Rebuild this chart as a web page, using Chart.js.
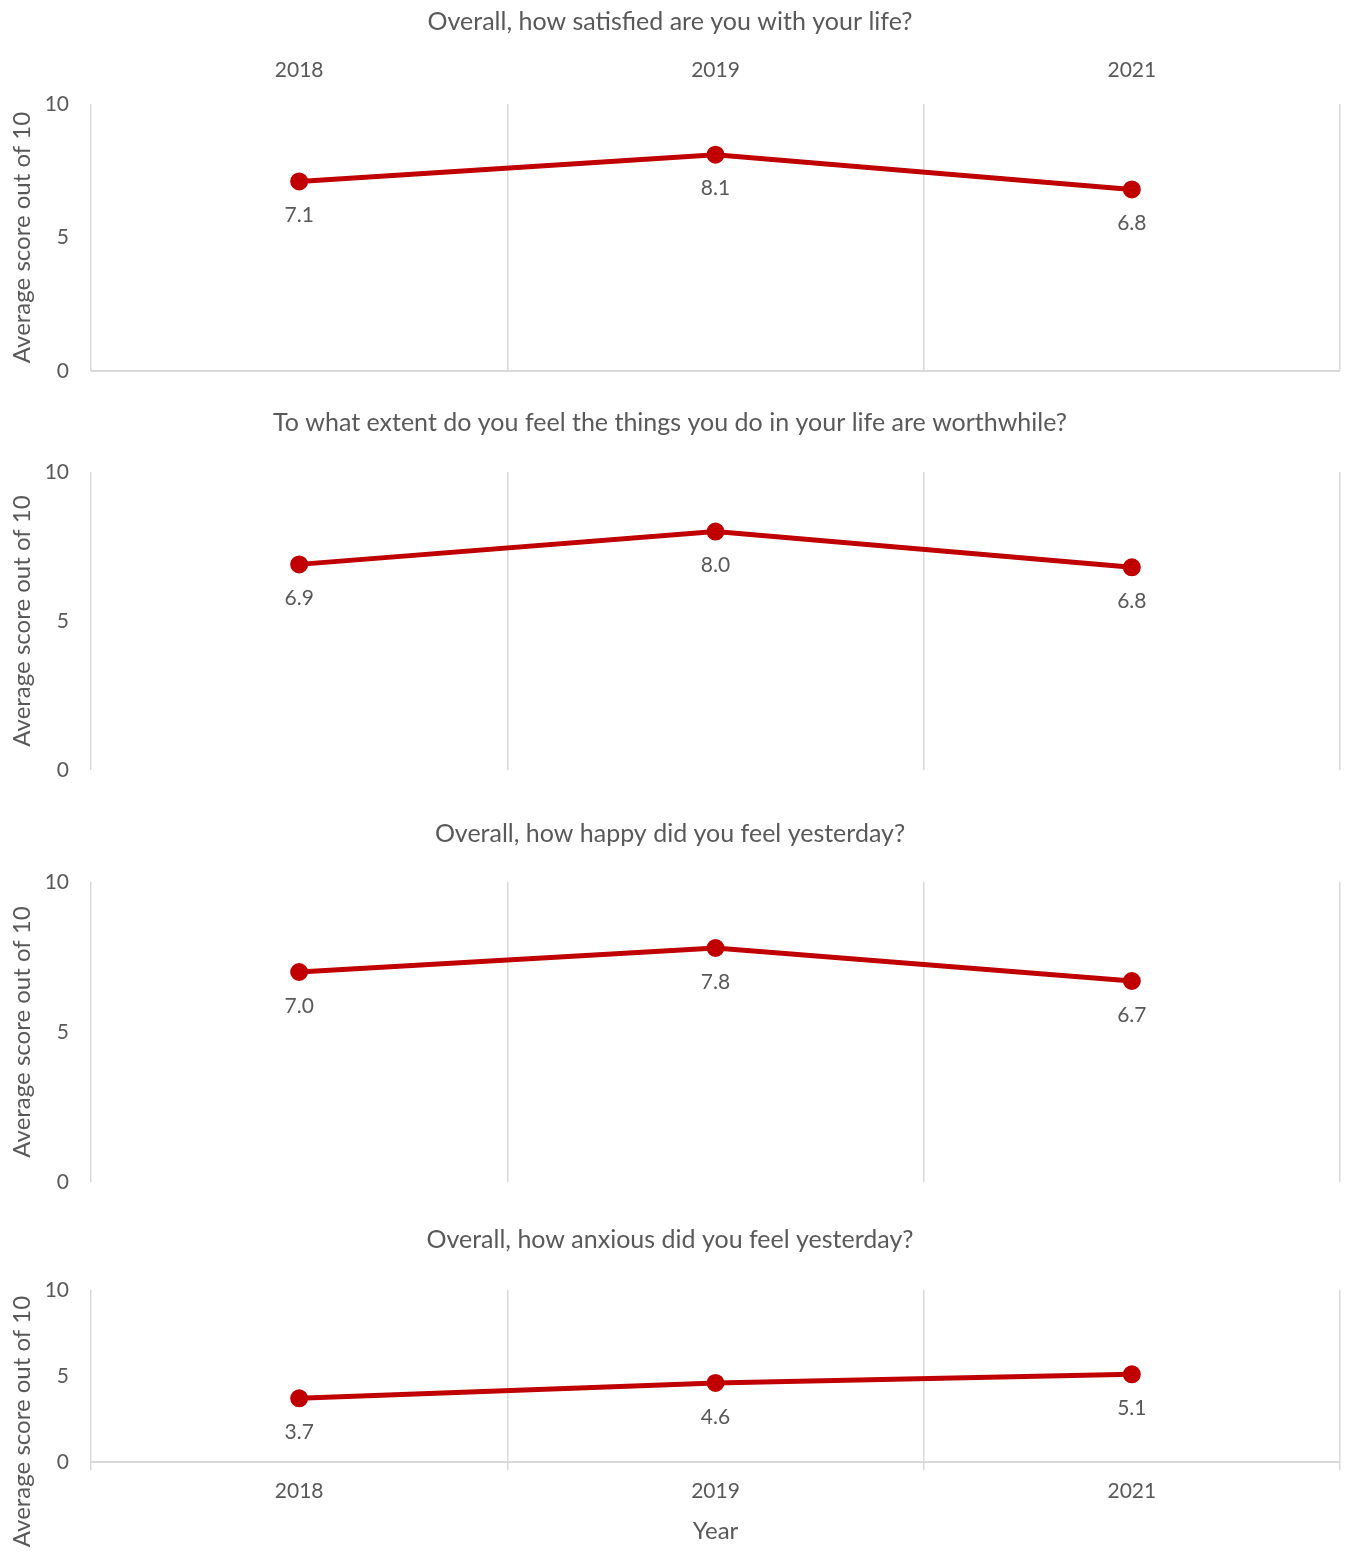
<!DOCTYPE html>
<html>
<head>
<meta charset="utf-8">
<title>Wellbeing scores</title>
<script src="https://cdn.jsdelivr.net/npm/chart.js@4.4.1/dist/chart.umd.min.js"></script>
<style>
  html, body { margin: 0; padding: 0; background: #fff; }
  body { width: 1346px; height: 1553px; position: relative; overflow: hidden; }
  canvas { position: absolute; left: 0; }
</style>
</head>
<body>
<canvas id="c1" width="1346" height="380" style="top:0px"></canvas>
<canvas id="c2" width="1346" height="380" style="top:400px"></canvas>
<canvas id="c3" width="1346" height="380" style="top:810px"></canvas>
<canvas id="c4" width="1346" height="333" style="top:1220px"></canvas>
<script>
// survey years and average scores (out of 10)
const years = ['2018', '2019', '2021'];
const lifeSatisfaction = [7.1, 8.1, 6.8];
const worthwhile = [6.9, 8.0, 6.8];
const happiness = [7.0, 7.8, 6.7];
const anxiety = [3.7, 4.6, 5.1];
const yTicks = [0, 5, 10];

const questions = [
  'Overall, how satisfied are you with your life?',
  'To what extent do you feel the things you do in your life are worthwhile?',
  'Overall, how happy did you feel yesterday?',
  'Overall, how anxious did you feel yesterday?'
];
const yAxisTitle = 'Average score out of 10';

const FONT = 'Lato, "Open Sans", sans-serif';
const GREY = '#595959';
const GRID = '#d9d9d9';
const RED = '#c00000';

// writes each point's value underneath it
const valueLabels = {
  id: 'valueLabels',
  afterDatasetsDraw(chart) {
    const ctx = chart.ctx;
    const ds = chart.data.datasets[0];
    const meta = chart.getDatasetMeta(0);
    ctx.save();
    ctx.font = '21px ' + FONT;
    ctx.fillStyle = GREY;
    ctx.textAlign = 'center';
    ctx.textBaseline = 'middle';
    meta.data.forEach((pt, i) => {
      ctx.fillText(ds.data[i].toFixed(1), pt.x, pt.y + 34);
    });
    ctx.restore();
  }
};

// rotated y title, centred between the plot top and a chosen bottom edge
const sideTitle = {
  id: 'sideTitle',
  afterDraw(chart, args, opts) {
    const ctx = chart.ctx;
    const top = chart.chartArea.top;
    const bottom = opts.toCanvasBottom ? chart.height : chart.chartArea.bottom;
    ctx.save();
    ctx.translate(22, (top + bottom) / 2);
    ctx.rotate(-Math.PI / 2);
    ctx.font = '24px ' + FONT;
    ctx.fillStyle = GREY;
    ctx.textAlign = 'center';
    ctx.textBaseline = 'middle';
    ctx.fillText(yAxisTitle, 0, 0);
    ctx.restore();
  }
};

function makeChart(id, title, values, opt) {
  const ctx = document.getElementById(id);
  new Chart(ctx, {
    type: 'line',
    data: {
      labels: years,
      datasets: [{
        data: values,
        borderColor: RED,
        backgroundColor: RED,
        borderWidth: 5,
        pointRadius: 6.5,
        pointHoverRadius: 6.5,
        tension: 0
      }]
    },
    options: {
      responsive: false,
      animation: false,
      events: [],
      layout: {
        autoPadding: false,
        padding: { top: 0, left: 0, right: 6, bottom: opt.padBottom }
      },
      plugins: {
        legend: { display: false },
        tooltip: { enabled: false },
        sideTitle: { toCanvasBottom: opt.xTitle },
        title: {
          display: true,
          text: title,
          color: GREY,
          font: { family: FONT, size: 25, weight: 'normal' },
          padding: { top: opt.titleTop, bottom: opt.titleBottom }
        }
      },
      scales: {
        x: {
          position: opt.xPos,
          offset: true,
          grid: {
            offset: true,
            color: GRID,
            lineWidth: 1.5,
            drawTicks: opt.xTicks,
            tickLength: 8
          },
          border: { display: opt.xBorder, color: GRID, width: 2 },
          ticks: {
            display: opt.xLabels,
            color: GREY,
            font: { family: FONT, size: 21 },
            padding: opt.xPad,
            maxRotation: 0
          },
          title: {
            display: opt.xTitle,
            text: 'Year',
            color: GREY,
            font: { family: FONT, size: 24 },
            padding: { top: 0, bottom: 7 }
          },
          afterFit(scale) {
            scale.height = opt.xHeight;
            scale.paddingLeft = 0;
            scale.paddingRight = 0;
          }
        },
        y: {
          min: 0,
          max: 10,
          afterBuildTicks(scale) { scale.ticks = yTicks.map(v => ({ value: v })); },
          grid: {
            drawTicks: false,
            lineWidth: 2,
            color: c => (opt.zeroLine && c.tick && c.tick.value === 0) ? GRID : 'rgba(0,0,0,0)'
          },
          border: { display: false },
          ticks: {
            color: GREY,
            font: { family: FONT, size: 21 },
            padding: 22
          },
          afterFit(scale) {
            scale.width = 91;
            scale.paddingTop = 0;
            scale.paddingBottom = 0;
          }
        }
      }
    },
    plugins: [valueLabels, sideTitle]
  });
}

makeChart('c1', questions[0], lifeSatisfaction, {
  titleTop: 7, titleBottom: 0, xPos: 'top', xLabels: true, xTicks: false,
  xPad: 21, xHeight: 67, xBorder: false, xTitle: false, zeroLine: true, padBottom: 9
});
makeChart('c2', questions[1], worthwhile, {
  titleTop: 8, titleBottom: 34, xPos: 'bottom', xLabels: false, xTicks: false,
  xPad: 0, xHeight: 0, xBorder: false, xTitle: false, zeroLine: false, padBottom: 10
});
makeChart('c3', questions[2], happiness, {
  titleTop: 9, titleBottom: 33, xPos: 'bottom', xLabels: false, xTicks: false,
  xPad: 0, xHeight: 0, xBorder: false, xTitle: false, zeroLine: false, padBottom: 8
});
makeChart('c4', questions[3], anxiety, {
  titleTop: 5, titleBottom: 35, xPos: 'bottom', xLabels: true, xTicks: true,
  xPad: 9, xHeight: 91, xBorder: true, xTitle: true, zeroLine: false, padBottom: 0
});
</script>
</body>
</html>
